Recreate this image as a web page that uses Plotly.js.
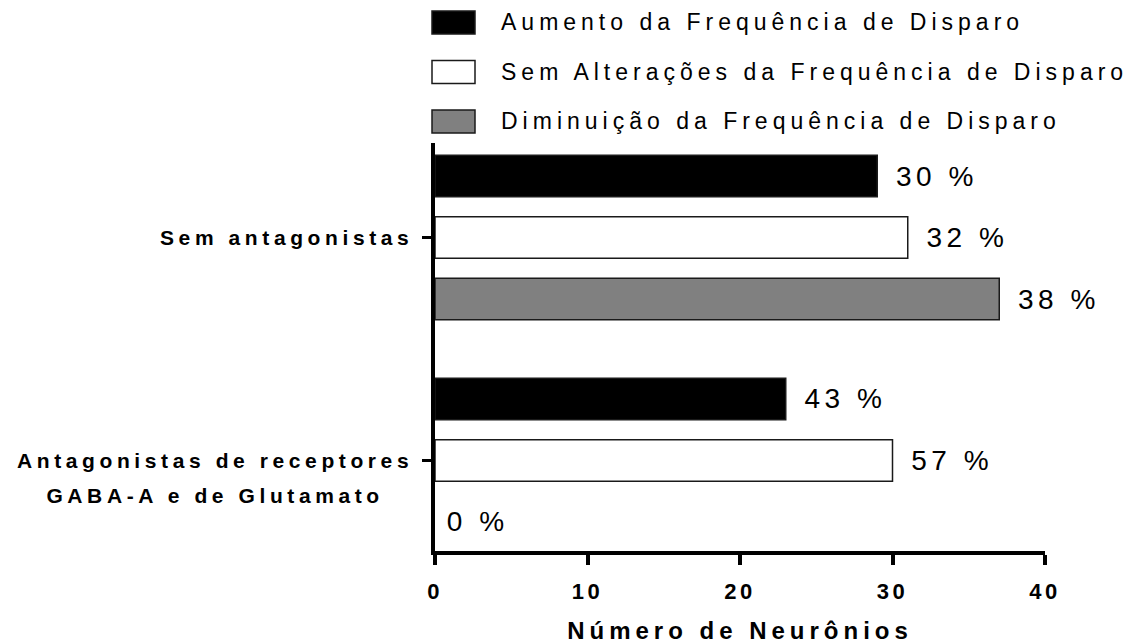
<!DOCTYPE html>
<html>
<head>
<meta charset="utf-8">
<script src="https://cdn.plot.ly/plotly-3.0.1.min.js"></script>
<style>
  html, body { margin: 0; padding: 0; background: #fff; }
  #chart { width: 1141px; height: 644px; }
  .xtick text { letter-spacing: 3.5px; }
</style>
</head>
<body>
<div id="chart"></div>
<script>
// ---- data ----
const categories = ["Sem antagonistas", "Antagonistas de receptores<br>GABA-A e de Glutamato"];
const seriesNames = [
  "Aumento da Frequência de Disparo",
  "Sem Alterações da Frequência de Disparo",
  "Diminuição da Frequência de Disparo"
];
const aumento = [29, 23];
const semAlteracoes = [31, 30];
const diminuicao = [37, 0];
const aumentoPct = ["30 %", "43 %"];
const semAlteracoesPct = ["32 %", "57 %"];
const diminuicaoPct = ["38 %", "0 %"];
const xTickVals = [0, 10, 20, 30, 40];
const xTitle = "Número de Neurônios";

// ---- style ----
const FONT = "Liberation Sans, Arial, Helvetica, sans-serif";
const fills = ["#000000", "#ffffff", "#808080"];
const W = 1141, H = 644;
const M = { l: 435, r: 96, t: 143, b: 93 };
const pw = W - M.l - M.r, ph = H - M.t - M.b;
const px2x = p => (p - M.l) / pw;
const px2y = p => (H - M.b - p) / ph;

const seriesValues = [aumento, semAlteracoes, diminuicao];
const seriesPct = [aumentoPct, semAlteracoesPct, diminuicaoPct];

const traces = seriesValues.map((vals, i) => ({
  type: "bar",
  orientation: "h",
  name: seriesNames[i],
  x: vals,
  y: categories,
  marker: {
    color: fills[i],
    line: { color: "#1a1a1a", width: vals.map(v => (v > 0 ? 1.5 : 0)) }
  },
  text: seriesPct[i].map((t, k) =>
    '<span style="letter-spacing:' + (vals[k] > 0 ? 8 : 1) + 'px">\u00a0</span>' +
    '<span style="letter-spacing:4.5px">' + t + '</span>'),
  textposition: "outside",
  textfont: { family: FONT, size: 28, color: "#000" },
  constraintext: "none",
  cliponaxis: false,
  hoverinfo: "none"
}));

const annotations = [];
const shapes = [];

// y category labels (centered multi-line block, first line at the tick)
categories.forEach(cat => {
  const lines = cat.split("<br>");
  annotations.push({
    xref: "paper", x: 0, xanchor: "right", xshift: -20,
    yref: "y", y: cat, yanchor: "middle", yshift: -(lines.length - 1) * 17.5,
    align: "center", showarrow: false,
    font: { family: FONT, size: 27, color: "#000", weight: "bold" },
    text: lines.map(l => '<span style="font-size:21px;letter-spacing:4.6px">' + l + '</span>').join("<br>")
  });
});

// custom legend
const legendRowsCenter = [22.5, 72, 121.5];
seriesNames.forEach((name, i) => {
  const cy = legendRowsCenter[i];
  shapes.push({
    type: "rect", xref: "paper", yref: "paper",
    x0: px2x(432), x1: px2x(475), y0: px2y(cy - 11.5), y1: px2y(cy + 11.5),
    fillcolor: fills[i], line: { color: "#1a1a1a", width: 1.5 }
  });
  annotations.push({
    xref: "paper", yref: "paper", x: px2x(499), y: px2y(cy),
    xanchor: "left", yanchor: "middle", showarrow: false,
    font: { family: FONT, size: 23, color: "#000" },
    text: '<span style="letter-spacing:5px">' + name + '</span>'
  });
});

const layout = {
  width: W, height: H,
  margin: M,
  paper_bgcolor: "#fff", plot_bgcolor: "#fff",
  barmode: "group",
  bargap: 0.1726,
  bargroupgap: 0.325,
  showlegend: false,
  font: { family: FONT, color: "#000" },
  xaxis: {
    range: [0, 40],
    tickvals: xTickVals,
    showgrid: false, zeroline: false,
    showline: true, linecolor: "#000", linewidth: 4,
    ticks: "outside", ticklen: 10, tickwidth: 4, tickcolor: "#000",
    ticklabelstandoff: 8,
    tickfont: { family: FONT, size: 22, color: "#000", weight: "bold" },
    title: {
      text: '<span style="letter-spacing:5px">' + xTitle + '</span>',
      font: { family: FONT, size: 24, color: "#000", weight: "bold" },
      standoff: 20
    },
    fixedrange: true
  },
  yaxis: {
    type: "category",
    range: [1.406, -0.424],
    showgrid: false, zeroline: false,
    showline: true, linecolor: "#000", linewidth: 4,
    ticks: "outside", ticklen: 9, tickwidth: 3.5, tickcolor: "#000",
    showticklabels: false,
    fixedrange: true
  },
  annotations: annotations,
  shapes: shapes
};

Plotly.newPlot("chart", traces, layout, { displayModeBar: false, staticPlot: true });
</script>
</body>
</html>
